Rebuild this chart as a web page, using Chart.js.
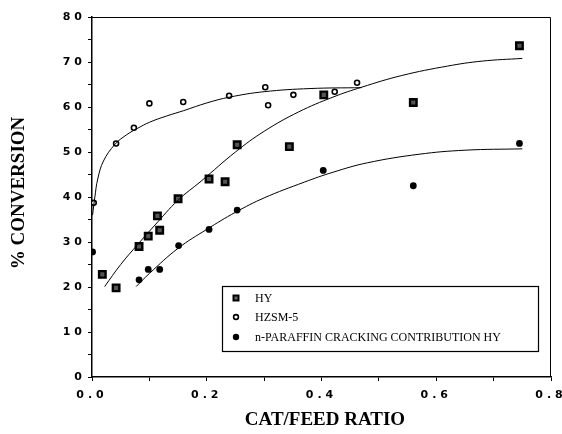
<!DOCTYPE html>
<html>
<head>
<meta charset="utf-8">
<script src="https://cdn.jsdelivr.net/npm/chart.js@4/dist/chart.umd.min.js"></script>
<style>
  html, body { margin: 0; padding: 0; background: #fff; }
  #wrap { width: 562px; height: 434px; }
</style>
</head>
<body>
<div id="wrap"><canvas id="conv" width="562" height="434"></canvas></div>
<script>
// measured points
const hyX = [0.018, 0.042, 0.082, 0.098, 0.114, 0.118, 0.150, 0.204, 0.232, 0.253, 0.344, 0.404, 0.560, 0.745];
const hyY = [22.8, 19.8, 29.0, 31.3, 35.8, 32.6, 39.6, 44.0, 43.4, 51.6, 51.2, 62.7, 61.0, 73.6];

const hzsmX = [0.003, 0.042, 0.073, 0.100, 0.159, 0.239, 0.302, 0.307, 0.351, 0.423, 0.462];
const hzsmY = [38.7, 51.9, 55.4, 60.8, 61.1, 62.5, 64.4, 60.4, 62.7, 63.4, 65.4];

const parX = [0.001, 0.082, 0.098, 0.118, 0.151, 0.204, 0.253, 0.403, 0.560, 0.745];
const parY = [27.8, 21.6, 23.9, 23.9, 29.2, 32.8, 37.1, 45.9, 42.5, 51.9];

// fitted curves
const hyFitX = [0.022, 0.05, 0.08, 0.11, 0.15, 0.19, 0.25, 0.30, 0.36, 0.42, 0.47, 0.54, 0.62, 0.68, 0.75];
const hyFitY = [20.1, 25.0, 29.5, 33.8, 39.3, 43.5, 50.0, 54.6, 58.9, 62.2, 64.4, 67.0, 69.1, 70.2, 70.8];

const hzsmFitX = [0.001, 0.005, 0.01, 0.02, 0.04, 0.06, 0.08, 0.10, 0.13, 0.16, 0.20, 0.24, 0.30, 0.38, 0.47];
const hzsmFitY = [36.0, 40.0, 44.0, 48.0, 51.7, 53.8, 55.3, 56.6, 58.0, 59.2, 60.9, 62.2, 63.4, 64.1, 64.3];

const parFitX = [0.077, 0.10, 0.15, 0.20, 0.25, 0.30, 0.37, 0.42, 0.48, 0.57, 0.65, 0.75];
const parFitY = [20.1, 23.0, 28.6, 32.8, 36.6, 39.8, 43.3, 45.5, 47.6, 49.5, 50.4, 50.7];

const legendLabels = ["HY", "HZSM-5", "n-PARAFFIN CRACKING CONTRIBUTION HY"];

function pts(xs, ys) {
    return xs.map((x, i) => ({ x: x, y: ys[i] }));
}

function curve(xs, ys) {
    return {
        data: pts(xs, ys),
        showLine: true,
        borderColor: "#000",
        borderWidth: 1,
        pointRadius: 0,
        tension: 0.4,
        fill: false,
    };
}

const tickFont = { family: "'DejaVu Sans', sans-serif", size: 11, weight: "bold" };

// keep the plot box fixed, whatever the label overflow
function fixBox(scale, w, h) {
    if (w) scale.width = w;
    if (h) scale.height = h;
    scale.paddingLeft = 0;
    scale.paddingRight = 0;
    scale.paddingTop = 0;
    scale.paddingBottom = 0;
}

// marker drawing used by the legend box
function marker(ctx, kind, x, y) {
    ctx.save();
    ctx.strokeStyle = "#000";
    ctx.fillStyle = "#000";
    if (kind === 0) {
        ctx.lineWidth = 2;
        ctx.fillStyle = "#666";
        ctx.beginPath();
        ctx.rect(x - 2.5, y - 2.5, 5, 5);
        ctx.fill();
        ctx.stroke();
    } else if (kind === 1) {
        ctx.lineWidth = 1.6;
        ctx.fillStyle = "#fff";
        ctx.beginPath();
        ctx.arc(x, y, 2.4, 0, Math.PI * 2);
        ctx.fill();
        ctx.stroke();
    } else {
        ctx.beginPath();
        ctx.arc(x, y, 3.2, 0, Math.PI * 2);
        ctx.fill();
    }
    ctx.restore();
}

const decorations = {
    id: "decorations",
    beforeDraw(chart) {
        // spaced digits on the tick labels
        chart.ctx.letterSpacing = "4px";
    },
    beforeDatasetsDraw(chart) {
        chart.ctx.letterSpacing = "0px";
    },
    afterDraw(chart) {
        const ctx = chart.ctx;
        const a = chart.chartArea;
        ctx.save();
        ctx.letterSpacing = "0px";

        // frame on top and right
        ctx.strokeStyle = "#000";
        ctx.lineWidth = 1;
        ctx.beginPath();
        ctx.moveTo(a.left, a.top + 0.5);
        ctx.lineTo(a.right - 0.5, a.top + 0.5);
        ctx.lineTo(a.right - 0.5, a.bottom);
        ctx.stroke();

        // axis titles
        ctx.fillStyle = "#000";
        ctx.font = "bold 19px 'Liberation Serif', 'Times New Roman', serif";
        ctx.textAlign = "center";
        ctx.textBaseline = "middle";
        ctx.fillText("CAT/FEED RATIO", 325, 420);
        ctx.save();
        ctx.translate(19, 193);
        ctx.rotate(-Math.PI / 2);
        ctx.fillText("% CONVERSION", 0, 0);
        ctx.restore();

        // legend box
        const bx = 222, by = 286, bw = 316, bh = 65;
        ctx.fillStyle = "#fff";
        ctx.fillRect(bx, by, bw, bh);
        ctx.lineWidth = 1.2;
        ctx.strokeRect(bx + 0.5, by + 0.5, bw, bh);
        const rows = [298, 317, 337];
        ctx.font = "12px 'Liberation Serif', 'Times New Roman', serif";
        ctx.textAlign = "left";
        legendLabels.forEach(function (label, i) {
            marker(ctx, i, 236, rows[i]);
            ctx.fillStyle = "#000";
            ctx.fillText(label, 255, rows[i] + 1);
        });
        ctx.restore();
    },
};

new Chart(document.getElementById("conv"), {
    type: "scatter",
    data: {
        datasets: [
            curve(hyFitX, hyFitY),
            curve(hzsmFitX, hzsmFitY),
            curve(parFitX, parFitY),
            {
                label: legendLabels[0],
                data: pts(hyX, hyY),
                pointStyle: "rect",
                pointRadius: 4.6,
                backgroundColor: "#555",
                borderColor: "#000",
                borderWidth: 2.4,
            },
            {
                label: legendLabels[1],
                data: pts(hzsmX, hzsmY),
                pointStyle: "circle",
                pointRadius: 2.5,
                backgroundColor: "#fff",
                borderColor: "#000",
                borderWidth: 1.6,
            },
            {
                label: legendLabels[2],
                data: pts(parX, parY),
                pointStyle: "circle",
                pointRadius: 3.4,
                backgroundColor: "#000",
                borderColor: "#000",
                borderWidth: 0,
            },
        ],
    },
    options: {
        responsive: false,
        animation: false,
        events: [],
        layout: { padding: { top: 17, right: 11, left: 0, bottom: 0 } },
        plugins: {
            legend: { display: false },
            tooltip: { enabled: false },
        },
        scales: {
            x: {
                type: "linear",
                min: 0,
                max: 0.8,
                afterFit: (scale) => fixBox(scale, 0, 57),
                ticks: {
                    stepSize: 0.1,
                    color: "#000",
                    font: tickFont,
                    padding: 8,
                    maxRotation: 0,
                    callback: (v) => (Math.round(v * 10) % 2 === 0 ? v.toFixed(1) : ""),
                },
                grid: { drawOnChartArea: false, color: "#000", tickLength: 4 },
                border: { color: "#000", width: 1.5 },
            },
            y: {
                min: 0,
                max: 80,
                afterFit: (scale) => fixBox(scale, 92, 0),
                ticks: {
                    stepSize: 5,
                    color: "#000",
                    font: tickFont,
                    padding: 2,
                    callback: (v) => (v % 10 === 0 ? String(v) : ""),
                },
                grid: { drawOnChartArea: false, color: "#000", tickLength: 4 },
                border: { color: "#000", width: 1.5 },
            },
        },
    },
    plugins: [decorations],
});
</script>
</body>
</html>
